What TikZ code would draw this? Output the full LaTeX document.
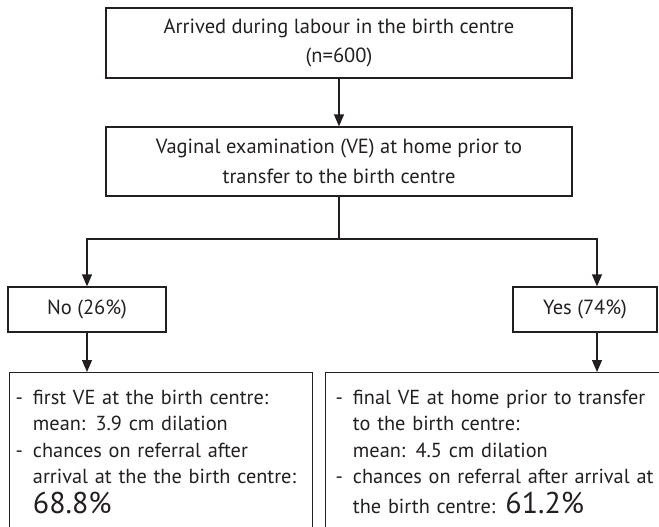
\documentclass[tikz,border=0pt]{standalone}
\usepackage{fontspec}
\setmainfont{PT Sans}
\usetikzlibrary{arrows.meta}
\definecolor{ink}{HTML}{231F20}
\begin{document}
\begin{tikzpicture}[x=1pt,y=-1pt,
  box/.style={draw=ink, line width=1.3pt, inner sep=0pt, align=center, text=ink,
    font=\fontsize{20.5}{29.5}\selectfont},
  listbox/.style={draw=ink, line width=1.3pt, anchor=north west, align=left, text=ink,
    inner ysep=13pt, text depth=150pt, font=\fontsize{20.3}{26.5}\selectfont},
  line/.style={line width=1.3pt, draw=ink},
  conn/.style={line, -{Triangle[length=12pt,width=10pt]}}]
\useasboundingbox (0,0) rectangle (659,527);
\clip (0,0) rectangle (659,527);
\node[box, minimum width=466pt, minimum height=70pt] (top) at (339,43)
  {Arrived during labour in the birth centre\\(n=600)};
\node[box, minimum width=466pt, minimum height=69pt] (exam) at (339,161.5)
  {Vaginal examination (VE) at home prior to\\transfer to the birth centre};
\node[box, minimum width=158pt, minimum height=45pt] (no) at (87,309.5) {No (26\%)};
\node[box, minimum width=144pt, minimum height=45pt] (yes) at (585,309.5) {Yes (74\%)};
\node[listbox, text width=291pt, inner xsep=6pt] (bl) at (9,372)
  {\begin{tabular}[t]{@{}l@{\hspace{10pt}}l@{}}
   - & first VE at the birth centre:\\
     & mean: 3.9 cm dilation\\
   - & chances on referral after\\
     & arrival at the the birth centre:\\
     & {\fontsize{30}{26}\selectfont 68.8\%}
   \end{tabular}};
\node[listbox, text width=340pt, inner xsep=10pt] (br) at (325,372)
  {\begin{tabular}[t]{@{}l@{\hspace{10pt}}l@{}}
   - & final VE at home prior to transfer\\
     & to the birth centre:\\
     & mean: 4.5 cm dilation\\
   - & chances on referral after arrival at\\
     & the birth centre: {\fontsize{30}{26}\selectfont 61.2\%}
   \end{tabular}};
\coordinate (jl) at (87,239);
\coordinate (jr) at (597,239);
\draw[conn] (top) -- (exam);
\draw[line] (exam.south) -- (exam.south |- jl);
\draw[conn] (exam.south |- jl) -- (jl) -- (jl |- no.north);
\draw[conn] (exam.south |- jr) -- (jr) -- (jr |- yes.north);
\draw[conn] (no.south) -- (no.south |- bl.north);
\draw[conn] (jr |- yes.south) -- (jr |- br.north);
\end{tikzpicture}
\end{document}
